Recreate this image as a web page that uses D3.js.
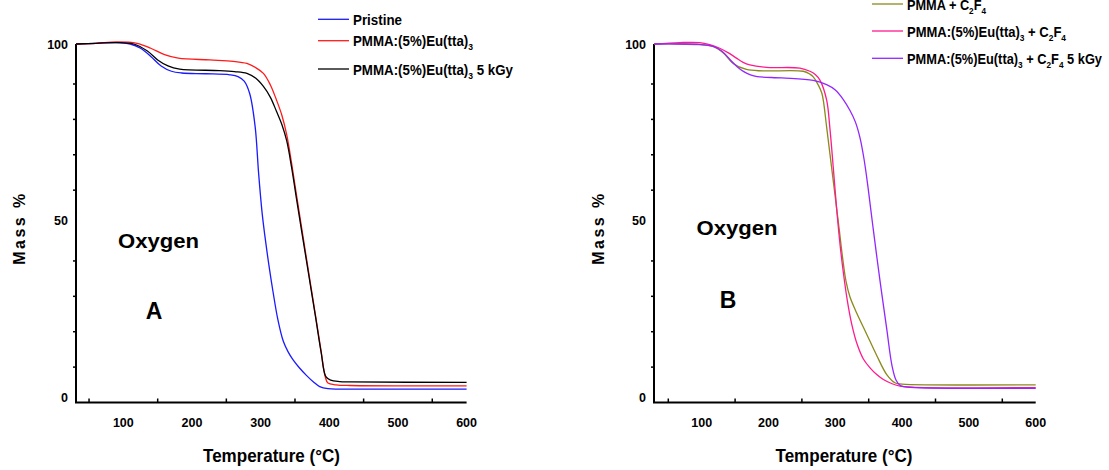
<!DOCTYPE html>
<html>
<head>
<meta charset="utf-8">
<script src="https://cdn.jsdelivr.net/npm/d3@7"></script>
<style>
	body { margin: 0; background: #fff; }
	svg { display: block; font-family: "Liberation Sans", Arial, sans-serif; font-weight: bold; }
	.axis-line { stroke: #000; stroke-width: 2; fill: none; }
	.tick-mark { stroke: #000; stroke-width: 1.5; }
	.curve { fill: none; stroke-width: 1.3; }
</style>
</head>
<body>
<svg id="chart" width="1109" height="470"></svg>
<script>
/*
	Data. [temperature °C, mass %]
*/
const tempTicks = [100, 200, 300, 400, 500, 600]
const tempMinorTicks = [50, 150, 250, 350, 450, 550]
const massTicks = [0, 50, 100]
const massMinorTicks = [8.7, 18.7, 28.7, 38.7, 58.7, 68.7, 78.7, 88.7]

const pristine = [[31,100],[60,100.2],[90,100.4],[110,100],[125,98.8],[140,96.5],[155,93.8],[170,92.3],[185,91.8],[220,91.6],[255,91.3],[267,90.8],[276,89.5],[284,86],[292,76.6],[297,63.5],[302,52.5],[306,46],[312,37.5],[318,30],[325,22.2],[333,16],[340,13],[347,10.8],[356,8.6],[367,6.3],[377,4.5],[386,3.2],[398,2.6],[420,2.5],[600,2.5]]
const pmmaEu = [[31,100],[60,100.2],[90,100.6],[120,100.2],[140,98.8],[160,97],[180,96],[226,95.5],[260,95.1],[280,94.5],[293,93.3],[304,91.7],[314,88.5],[323,84.2],[331,79.8],[338,74.3],[345,66.4],[352,57.6],[360,47.7],[370,35.4],[380,23.2],[388,13.3],[394,6],[398,4.2],[410,3.7],[430,3.5],[600,3.4]]
const pmmaEu5kGy = [[31,100],[60,100.2],[90,100.4],[115,100],[135,98],[150,95.5],[165,93.8],[182,92.9],[240,92.5],[262,92.2],[280,91.7],[293,90.3],[304,88],[314,85],[323,81],[331,77.2],[338,72.6],[345,65.2],[352,56.5],[360,46.8],[370,34.8],[380,22.8],[388,13],[395,6],[402,5],[415,4.6],[430,4.5],[600,4.4]]

const pmmaC2F4 = [[29,100],[67,100],[95,99.8],[117,99.3],[132,97.5],[147,94.5],[167,92.8],[192,92.4],[252,92.3],[262,91.5],[267,90.7],[274,88.6],[280,86],[287,76.6],[295,64.3],[306,47.4],[311,39.5],[316,33],[322,28.5],[332,24],[347,18],[362,12],[377,6.6],[390,4.2],[400,3.9],[600,3.7]]
const pmmaEuC2F4 = [[29,100],[67,100.4],[97,100.4],[112,99.8],[127,98.8],[140,97.5],[152,96],[162,94.8],[172,94.1],[197,93.4],[247,93.2],[262,92.3],[270,91.4],[277,89.8],[287,84.2],[292,76],[297,65],[302,53.5],[307,43.5],[312,35.5],[318,27.5],[325,20.5],[333,15],[342,11],[352,8.5],[362,6.6],[372,5.2],[385,4],[397,3.3],[420,3],[600,2.9]]
const pmmaEuC2F45kGy = [[29,100],[67,100],[97,99.9],[117,99.3],[130,98],[143,95.5],[153,93.6],[163,92.2],[173,91.3],[183,90.8],[220,90.4],[267,89.7],[287,88.5],[300,87],[312,84.3],[322,81.2],[330,78],[337,73.5],[343,67.5],[349,59.5],[357,47.4],[367,33],[377,19.5],[385,9],[391,5],[398,3.4],[412,3],[600,2.7]]

/*
	Legend labels, split into normal and subscript parts, with the width each takes in the picture
*/
const labelsA = [
	[['Pristine']],
	[['PMMA:(5%)Eu(tta)'], ['3', true]],
	[['PMMA:(5%)Eu(tta)'], ['3', true], [' 5 kGy']]
]
const labelsB = [
	[['PMMA + C'], ['2', true], ['F'], ['4', true]],
	[['PMMA:(5%)Eu(tta)'], ['3', true], [' + C'], ['2', true], ['F'], ['4', true]],
	[['PMMA:(5%)Eu(tta)'], ['3', true], [' + C'], ['2', true], ['F'], ['4', true], [' 5 kGy']]
]
const labelWidthsA = [49, 120, 160]
const labelWidthsB = [79, 159, 195]

/*
	Panel layout
*/
const svg = d3.select('#chart')
const yRange = [402.5, 44]
const panels = [
	{
		xRange: [76, 466.6], xDomain: [31, 600],
		series: [pristine, pmmaEu, pmmaEu5kGy], colors: ['#1a1aff', '#ff1a1a', '#000000'],
		labels: labelsA, labelWidths: labelWidthsA, legendX: 318, legendY: [19.3, 40.7, 69],
		massTitleX: 19, tempTitleX: 271.5,
		oxygen: [158.5, 248], letter: ['A', 154, 319]
	},
	{
		xRange: [654, 1035.7], xDomain: [28.6, 600],
		series: [pmmaC2F4, pmmaEuC2F4, pmmaEuC2F45kGy], colors: ['#8a8a1c', '#ff1a8c', '#9326ff'],
		labels: labelsB, labelWidths: labelWidthsB, legendX: 872, legendY: [4, 31, 58.3],
		massTitleX: 598, tempTitleX: 844,
		oxygen: [737, 235], letter: ['B', 728, 308]
	}
]

function drawPanel(p) {
	const x = d3.scaleLinear().domain(p.xDomain).range(p.xRange)
	const y = d3.scaleLinear().domain([-1.3, 100]).range(yRange)
	const g = svg.append('g')

	//axes: only left and bottom lines
	g.append('line').attr('class', 'axis-line')
		.attr('x1', p.xRange[0]).attr('x2', p.xRange[0]).attr('y1', yRange[0]).attr('y2', yRange[1])
	g.append('line').attr('class', 'axis-line')
		.attr('x1', p.xRange[0] - 1).attr('x2', p.xRange[1]).attr('y1', yRange[0]).attr('y2', yRange[0])

	//minor ticks: x pointing in, y pointing out
	g.selectAll('.xminor').data(tempMinorTicks).enter().append('line')
		.attr('class', 'tick-mark')
		.attr('x1', d => x(d)).attr('x2', d => x(d))
		.attr('y1', yRange[0]).attr('y2', yRange[0] - 4)
	g.selectAll('.yminor').data(massMinorTicks).enter().append('line')
		.attr('class', 'tick-mark')
		.attr('x1', p.xRange[0]).attr('x2', p.xRange[0] - 3)
		.attr('y1', d => y(d)).attr('y2', d => y(d))

	g.selectAll('.xlabel').data(tempTicks).enter().append('text')
		.attr('x', d => x(d)).attr('y', 427)
		.attr('text-anchor', 'middle').attr('font-size', 12.5)
		.text(d => d)
	g.selectAll('.ylabel').data(massTicks).enter().append('text')
		.attr('x', p.xRange[0] - 8).attr('y', d => y(d) + 4.5)
		.attr('text-anchor', 'end').attr('font-size', 12.5)
		.text(d => d)

	//titles
	g.append('text')
		.attr('x', p.tempTitleX).attr('y', 462)
		.attr('text-anchor', 'middle').attr('font-size', 19)
		.attr('textLength', 137).attr('lengthAdjust', 'spacingAndGlyphs')
		.text('Temperature (°C)')
	g.append('text')
		.attr('transform', `translate(${p.massTitleX + 6},228) rotate(-90)`)
		.attr('text-anchor', 'middle').attr('font-size', 16)
		.attr('letter-spacing', 2.5)
		.text('Mass %')
	g.append('text')
		.attr('x', p.oxygen[0]).attr('y', p.oxygen[1])
		.attr('text-anchor', 'middle').attr('font-size', 21)
		.attr('textLength', 81).attr('lengthAdjust', 'spacingAndGlyphs')
		.text('Oxygen')
	g.append('text')
		.attr('x', p.letter[1]).attr('y', p.letter[2])
		.attr('text-anchor', 'middle').attr('font-size', 23)
		.text(p.letter[0])

	//curves
	const line = d3.line().x(d => x(d[0])).y(d => y(d[1])).curve(d3.curveCatmullRom.alpha(0.5))
	g.selectAll('.curve').data(p.series).enter().append('path')
		.attr('class', 'curve')
		.attr('stroke', (d, i) => p.colors[i])
		.attr('d', line)

	//legend
	p.labels.forEach((parts, i) => {
		const ly = p.legendY[i]
		g.append('line')
			.attr('x1', p.legendX).attr('x2', p.legendX + 31)
			.attr('y1', ly).attr('y2', ly)
			.attr('stroke', p.colors[i]).attr('stroke-width', 1.3)
		const t = g.append('text')
			.attr('x', p.legendX + 35).attr('y', ly + 5.7)
			.attr('font-size', 14)
			.attr('textLength', p.labelWidths[i]).attr('lengthAdjust', 'spacingAndGlyphs')
		parts.forEach(([s, sub], j) => {
			const prevSub = j > 0 && parts[j - 1][1]
			const span = t.append('tspan').text(s)
			if(sub) span.attr('font-size', 9).attr('dy', 4)
			else if(prevSub) span.attr('dy', -4)
		})
	})
}

panels.forEach(drawPanel)
</script>
</body>
</html>
